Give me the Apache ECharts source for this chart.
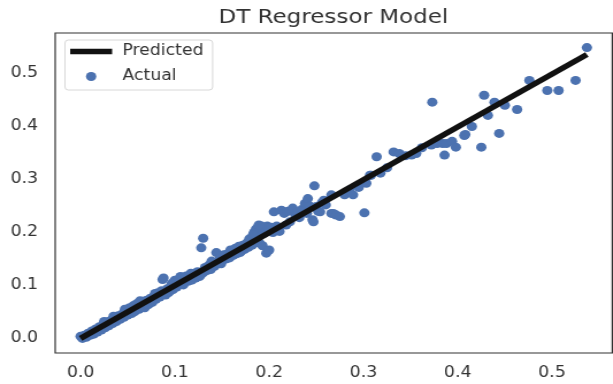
<!DOCTYPE html>
<html>
<head>
<meta charset="utf-8">
<script src="https://cdn.jsdelivr.net/npm/echarts@6/dist/echarts.min.js"></script>
<style>
html,body{margin:0;padding:0;background:#fff;overflow:hidden;width:613px;height:384px;}
#c{width:533px;height:384px;transform:scaleX(1.15);transform-origin:0 0;}
</style>
</head>
<body>
<div id="c"></div>
<script>
// tick labels
var xTicks = [0.0, 0.1, 0.2, 0.3, 0.4, 0.5];
var yTicks = [0.0, 0.1, 0.2, 0.3, 0.4, 0.5];
// predicted line (y_pred vs y_pred)
var predX = [0.0, 0.537];
var predY = [0.0, 0.536];
// actual values: x = predicted, y = actual
var actualX = [
0.000,0.002,0.004,0.006,0.008,0.010,0.012,0.014,0.016,0.018,0.020,0.022,0.024,0.026,0.028,0.030,0.032,0.034,0.036,0.038,0.040,0.042,0.044,0.046,0.048,0.050,
0.052,0.054,0.056,0.058,0.060,0.062,0.064,0.066,0.068,0.070,0.072,0.074,0.076,0.078,0.080,0.082,0.084,0.086,0.087,0.088,0.090,0.092,0.093,0.094,0.096,0.098,
0.100,0.102,0.104,0.106,0.108,0.110,0.112,0.114,0.116,0.118,0.120,0.122,0.124,0.126,0.128,0.130,0.130,0.132,0.134,0.136,0.138,0.140,0.142,0.144,0.146,0.148,0.150,0.152,0.154,0.156,0.158,0.160,0.162,0.164,0.166,0.168,0.170,0.172,0.174,0.176,0.178,0.180,0.182,0.184,0.186,0.186,0.188,0.190,0.190,0.192,0.193,0.194,0.196,0.197,0.198,0.200,0.200,0.202,0.204,
0.205,0.208,0.211,0.213,0.216,0.218,0.220,0.222,0.225,0.228,0.230,0.232,0.235,0.238,0.240,0.241,0.243,0.246,0.247,0.248,0.250,0.252,0.254,0.256,0.258,0.260,0.266,0.266,0.268,0.271,0.275,0.280,0.285,0.289,0.295,0.301,0.303,0.307,0.308,0.314,
0.318,0.325,0.332,0.338,0.345,0.351,0.356,0.362,0.372,0.373,0.378,0.384,0.386,0.388,0.394,0.398,0.407,0.408,0.415,0.425,0.428,0.432,0.439,0.444,0.450,0.463,0.476,0.495,0.507,0.525,0.537,
0.025,0.035,0.047,0.057,0.063,0.071,0.079,0.097,0.109,0.117,0.127,0.139,0.149,0.159,0.169,0.179,0.183,0.189
];
var actualY = [
0.004,0.000,0.006,0.002,0.010,0.006,0.014,0.008,0.018,0.012,0.022,0.016,0.026,0.020,0.031,0.024,0.034,0.028,0.038,0.032,0.043,0.036,0.046,0.040,0.052,0.044,
0.058,0.047,0.062,0.052,0.066,0.055,0.060,0.070,0.058,0.072,0.064,0.076,0.068,0.080,0.074,0.086,0.078,0.090,0.111,0.114,0.082,0.094,0.086,0.088,0.100,0.092,
0.110,0.097,0.112,0.117,0.103,0.112,0.118,0.108,0.120,0.110,0.122,0.114,0.126,0.117,0.171,0.189,0.124,0.134,0.128,0.138,0.130,0.144,0.136,0.162,0.142,0.152,0.146,0.158,0.150,0.160,0.152,0.166,0.157,0.170,0.160,0.174,0.164,0.176,0.168,0.180,0.172,0.184,0.176,0.200,0.206,0.188,0.210,0.204,0.180,0.212,0.175,0.198,0.206,0.161,0.212,0.167,0.208,0.210,0.200,
0.239,0.212,0.202,0.242,0.236,0.214,0.240,0.220,0.246,0.232,0.238,0.228,0.244,0.255,0.236,0.264,0.250,0.224,0.220,0.288,0.249,0.240,0.239,0.256,0.261,0.252,0.271,0.236,0.236,0.233,0.230,0.271,0.280,0.271,0.285,0.237,0.293,0.308,0.308,0.343,
0.312,0.322,0.352,0.349,0.345,0.346,0.349,0.360,0.365,0.446,0.368,0.368,0.346,0.368,0.372,0.361,0.383,0.385,0.400,0.361,0.459,0.421,0.446,0.387,0.440,0.432,0.487,0.468,0.468,0.487,0.549,
0.032,0.042,0.055,0.050,0.071,0.064,0.085,0.104,0.101,0.123,0.119,0.146,0.141,0.167,0.162,0.188,0.196,0.214
];

var scatterData = actualX.map(function (x, i) { return [x, actualY[i]]; });
var lineData = predX.map(function (x, i) { return [x, predY[i]]; });

var chart = echarts.init(document.getElementById('c'), null, {renderer: 'canvas'});
var labelStyle = {fontSize: 15, color: '#333', fontFamily: 'DejaVu Sans'};
chart.setOption({
  animation: false,
  backgroundColor: '#fff',
  title: {
    text: 'DT Regressor Model',
    left: 190, top: 8, padding: 0,
    textStyle: {fontSize: 20, fontWeight: 'normal', color: '#333', fontFamily: 'DejaVu Sans'}
  },
  legend: {
    orient: 'vertical',
    left: 56.5, top: 40,
    padding: [4, 8, 6, 4.5],
    itemWidth: 36.5, itemHeight: 9, itemGap: 10,
    borderColor: '#d8d8d8', borderWidth: 1, borderRadius: 3,
    textStyle: {fontSize: 15, color: '#333', fontFamily: 'DejaVu Sans', padding: [0, 0, 0, 4]},
    data: [
      {name: 'Predicted', icon: 'path://M0,0L73,0L73,11L0,11Z', itemStyle: {color: '#111'}},
      {name: 'Actual', icon: 'circle'}
    ]
  },
  grid: {
    left: 48, right: 0.6, top: 33, bottom: 31,
    show: true, borderColor: '#333', borderWidth: 1.2, backgroundColor: 'transparent'
  },
  xAxis: {
    type: 'value', min: -0.0269, max: 0.5639,
    axisLine: {show: false}, axisTick: {show: false}, splitLine: {show: false},
    axisLabel: Object.assign({customValues: xTicks, margin: 13, formatter: function (v) { return v.toFixed(1); }}, labelStyle)
  },
  yAxis: {
    type: 'value', min: -0.0275, max: 0.5765,
    axisLine: {show: false}, axisTick: {show: false}, splitLine: {show: false},
    axisLabel: Object.assign({customValues: yTicks, margin: 15, formatter: function (v) { return v.toFixed(1); }}, labelStyle)
  },
  series: [
    {
      name: 'Actual', type: 'scatter', data: scatterData,
      symbol: 'circle', symbolSize: 9,
      itemStyle: {color: '#4c72b0', opacity: 1}, z: 2
    },
    {
      name: 'Predicted', type: 'line', data: lineData,
      symbol: 'none', showSymbol: false,
      lineStyle: {color: '#111', width: 5.5}, itemStyle: {color: '#111'}, z: 3
    }
  ]
});
</script>
</body>
</html>
